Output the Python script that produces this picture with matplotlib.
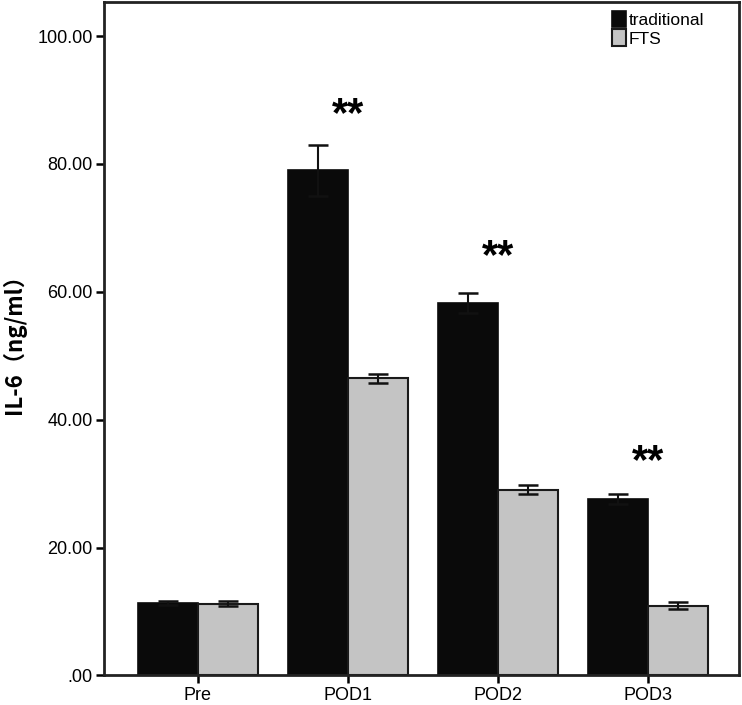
import numpy as np
import matplotlib
matplotlib.use("Agg")
import matplotlib.pyplot as plt

# data
groups      = ["Pre", "POD1", "POD2", "POD3"]
trad_mean   = [11.3, 79.0, 58.2, 27.6]
trad_err    = [0.3, 4.0, 1.6, 0.8]
fts_mean    = [11.2, 46.5, 29.0, 10.9]
fts_err     = [0.4, 0.7, 0.7, 0.5]
star_labels = ["", "**", "**", "**"]
star_y      = [0, 87.6, 65.5, 33.4]
y_ticks     = [0, 20, 40, 60, 80, 100]
y_labels    = [".00", "20.00", "40.00", "60.00", "80.00", "100.00"]

plt.rcParams["font.family"] = ["Liberation Sans", "DejaVu Sans"]

fig = plt.figure(figsize=(7.42, 7.05), dpi=100)
fig.patch.set_facecolor("white")
ax = fig.add_axes([0.140, 0.042, 0.856, 0.955])

x = np.arange(len(groups))
w = 0.4

ax.bar(x - w / 2, trad_mean, w, color="#0a0a0a", edgecolor="#0a0a0a",
       lw=1.2, label="traditional", zorder=2)
ax.bar(x + w / 2, fts_mean, w, color="#c4c4c4", edgecolor="#1a1a1a",
       lw=1.5, label="FTS", zorder=2)
ax.errorbar(x - w / 2, trad_mean, yerr=trad_err, fmt="none", ecolor="#111111",
            elinewidth=1.5, capsize=7, capthick=1.8, zorder=3)
ax.errorbar(x + w / 2, fts_mean, yerr=fts_err, fmt="none", ecolor="#111111",
            elinewidth=1.5, capsize=7, capthick=1.8, zorder=3)

for xi, s, sy in zip(x, star_labels, star_y):
    if s:
        ax.text(xi, sy, s, ha="center", va="center", fontsize=30,
                fontweight="bold", color="black")

ax.set_xlim(-0.627, 3.607)
ax.set_ylim(0, 105.3)
ax.set_xticks(x)
ax.set_xticklabels(groups, fontsize=13)
ax.set_yticks(y_ticks)
ax.set_yticklabels(y_labels, fontsize=13)
ax.tick_params(axis="both", direction="out", length=6, width=1.8, pad=2)
ax.set_ylabel("IL-6（ng/ml）", fontsize=16, fontweight="bold",
              family=["Noto Sans CJK SC", "DejaVu Sans"], labelpad=8)

for sp in ax.spines.values():
    sp.set_linewidth(2)
    sp.set_color("#222222")

ax.legend(loc="upper right", bbox_to_anchor=(0.962, 1.003), frameon=False,
          fontsize=12.5, handlelength=0.75, handleheight=1.1, handletextpad=0.2,
          labelspacing=0.1, borderaxespad=0.2)

fig.savefig("out.png", dpi=100)
plt.close(fig)
